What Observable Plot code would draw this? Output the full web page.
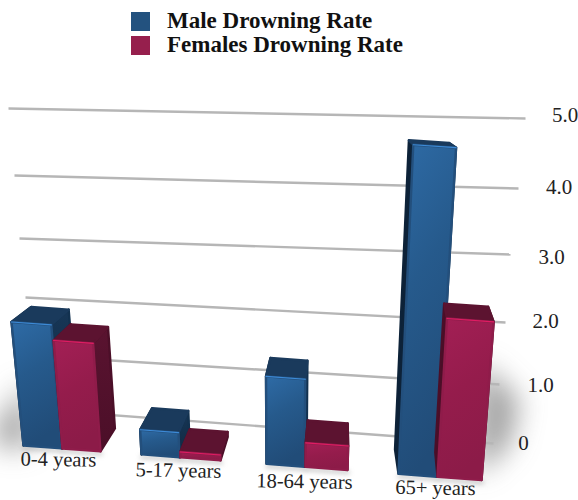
<!DOCTYPE html>
<html>
<head>
<meta charset="utf-8">
<script src="https://cdn.jsdelivr.net/npm/d3@7"></script>
<script src="https://cdn.jsdelivr.net/npm/@observablehq/plot@0.6"></script>
<style>
html,body{margin:0;padding:0;background:#fff;}
#legend{height:60px;box-sizing:border-box;padding:9px 0 0 131px;font:bold 23px "Liberation Serif",serif;color:#111;}
#legend div{display:flex;align-items:center;height:24px;}
#legend span.s{display:inline-block;width:19px;height:19px;margin-right:17px;}
svg{display:block;}
</style>
</head>
<body>
<div id="legend"></div>
<div id="chart"></div>
<script>
// ---- data ----
const categories = ["0-4 years", "5-17 years", "18-64 years", "65+ years"];
const maleRates = [1.9, 0.37, 1.28, 4.7];
const femaleRates = [1.66, 0.08, 0.35, 2.26];
const rateTicks = [0, 1, 2, 3, 4, 5];
const seriesNames = ["Male Drowning Rate", "Females Drowning Rate"];

// ---- layout & style ----
const H = 60;
const seriesColors = ["#23527f", "#961f4d"];
const tickPixels = [443, 385, 321, 257, 187, 115];
const tickCenters = [523, 540, 545, 551, 558.5, 564.5];
const gridLeft = [[36, 409], [30.5, 355], [25, 297], [19, 238], [14, 175], [8, 108]];
const gridRight = [[493, 443], [499, 384], [505, 322], [510, 254], [518, 188], [525, 118]];
const labelPos = [[58, 459], [178, 470], [304, 481], [435, 487.5]];
const VX = 280, VY = 3100, DY = 70, D = 0.06;
const depthX = [[340, 340, 340, 340], [340, 340, 340, 400]];

// y is a rate scale; perspective positions on the page convert back to it
const toRate = d3.scaleLinear().domain([443 - H, 115 - H]).range([0, 5]);
const P = (x, y) => ({x, y: toRate(y - H)});

const baseLine = x => 445 + 0.0755 * (x - 23);
const rise = (bx, by, v, k) => {
  const y = by - k * v;
  return [bx + (bx - VX) * (by - y) / (VY - by), y];
};

const barGeometry = (i, s, v) => {
  const maleX = 23 + 114.5 * i + 3.5 * i * i;
  const x0 = s === 0 ? maleX : maleX + 39;
  const w = s === 0 ? 38 : 38 + 2 * i;
  const k = 65 + 1.67 * i;
  const back = ([x, y]) => [x + (depthX[s][i] - x) * D, y + (DY - y) * D];
  const BL = [x0, baseLine(x0)], BR = [x0 + w, baseLine(x0 + w)];
  const TL = rise(BL[0], BL[1], v, k), TR = rise(BR[0], BR[1], v, k);
  return {BL, BR, TL, TR, bBL: back(BL), bBR: back(BR), bTL: back(TL), bTR: back(TR)};
};

const poly = (pts, fill, stroke, extra = {}) =>
  Plot.line(pts.map(p => P(p[0], p[1])), {x: "x", y: "y", curve: "linear-closed", fill, stroke: stroke || "none", strokeWidth: stroke ? 2.4 : 0, strokeLinejoin: "round", ...extra});

const bars = [];
categories.forEach((c, i) => {
  bars.push({i, s: 0, g: barGeometry(i, 0, maleRates[i]), v: maleRates[i]});
  bars.push({i, s: 1, g: barGeometry(i, 1, femaleRates[i]), v: femaleRates[i]});
});

// soft shadows on the floor
const shadows = [];
const m0 = bars[0].g, f3 = bars[7].g;
shadows.push(poly([[m0.BL[0] + 6, m0.BL[1] + 2], [m0.BL[0] + 4, m0.BL[1] - 65], [m0.BL[0] - 30, m0.BL[1] - 15], [m0.BL[0] - 26, m0.BL[1] + 2]], "#444", null, {imageFilter: "blur(14px)", fillOpacity: 0.5}));
shadows.push(poly([[f3.BR[0] - 6, f3.BR[1] - 4], [f3.TR[0] - 14, f3.TR[1] + 40], [f3.BR[0] + 38, f3.BR[1] - 80], [f3.BR[0] + 28, f3.BR[1] - 35]], "#444", null, {imageFilter: "blur(14px)", fillOpacity: 0.5}));
bars.forEach(b => shadows.push(poly([[b.g.BL[0] - 1, b.g.BL[1] + 1], [b.g.BR[0] + 2, b.g.BR[1] + 1], [b.g.BR[0] + 2, b.g.BR[1] + 4], [b.g.BL[0] - 1, b.g.BL[1] + 4]], "#777", null, {imageFilter: "blur(2.5px)", fillOpacity: 0.5})));

const faces = bars.flatMap(({s, g}) => {
  const n = s === 0 ? "m" : "f";
  const edgeTop = s === 0 ? "#1a3a5c" : "#5c1330";
  const edgeSide = s === 0 ? "#12314f" : "#4b0f28";
  const edgeFront = s === 0 ? "#234f7c" : "#8f1c4a";
  const hi = s === 0 ? "#3d8ad6" : "#e01c63";
  return [
    poly([g.BL, g.TL, g.bTL, g.bBL], s === 0 ? "#0d2238" : "#4b0f28", s === 0 ? "#0d2238" : "#4b0f28"),
    poly([g.BR, g.TR, g.bTR, g.bBR], `url(#${n}Side)`, edgeSide),
    poly([g.TL, g.TR, g.bTR, g.bTL], edgeTop, edgeTop),
    poly([g.BL, g.BR, g.TR, g.TL], `url(#${n}Front)`, edgeFront),
    Plot.line([P(g.TL[0], g.TL[1]), P(g.TR[0], g.TR[1])], {x: "x", y: "y", stroke: hi, strokeWidth: 1.1})
  ];
});

const gridData = rateTicks.map(t => ({
  x1: gridLeft[t][0], y1: toRate(gridLeft[t][1] - H),
  x2: gridRight[t][0], y2: toRate(gridRight[t][1] - H)
}));

const chart = Plot.plot({
  width: 578, height: 500 - H,
  marginTop: 0, marginRight: 0, marginBottom: 0, marginLeft: 0,
  x: {domain: [0, 578], range: [0, 578], axis: null},
  y: {domain: [0, 5], range: [443 - H, 115 - H], axis: null},
  style: {background: "transparent", overflow: "hidden"},
  marks: [
    ...shadows,
    Plot.link(gridData, {x1: "x1", y1: "y1", x2: "x2", y2: "y2", stroke: "#b6b6b6", strokeWidth: 2.4}),
    ...faces,
    Plot.text(rateTicks, {
      x: (d, i) => tickCenters[i], y: (d, i) => toRate(tickPixels[i] - H),
      text: d => d === 0 ? "0" : d.toFixed(1),
      fontFamily: "Liberation Serif, serif", fontSize: 21, fill: "#222", textAnchor: "middle"
    }),
    Plot.text(categories, {
      x: (d, i) => labelPos[i][0], y: (d, i) => toRate(labelPos[i][1] - H),
      text: d => d,
      fontFamily: "Liberation Serif, serif", fontSize: 20.5, fill: "#222", textAnchor: "middle", rotate: 1
    })
  ]
});

chart.insertAdjacentHTML("afterbegin", `<defs>
<linearGradient id="mFront" x1="0" y1="0" x2="0.25" y2="1"><stop offset="0" stop-color="#2e6ba6"/><stop offset="0.45" stop-color="#265a8c"/><stop offset="1" stop-color="#214c78"/></linearGradient>
<linearGradient id="fFront" x1="0" y1="0" x2="0.25" y2="1"><stop offset="0" stop-color="#a31f55"/><stop offset="0.5" stop-color="#951c4c"/><stop offset="1" stop-color="#8c1b48"/></linearGradient>
<linearGradient id="mSide" x1="0" y1="0" x2="0" y2="1"><stop offset="0" stop-color="#173656"/><stop offset="1" stop-color="#0f2840"/></linearGradient>
<linearGradient id="fSide" x1="0" y1="0" x2="0" y2="1"><stop offset="0" stop-color="#5a1330"/><stop offset="1" stop-color="#4b0f28"/></linearGradient>
</defs>`);
document.getElementById("chart").append(chart);

document.getElementById("legend").innerHTML = seriesNames.map((n, i) =>
  `<div><span class="s" style="background:${seriesColors[i]}"></span><span>${n}</span></div>`).join("");
</script>
</body>
</html>
